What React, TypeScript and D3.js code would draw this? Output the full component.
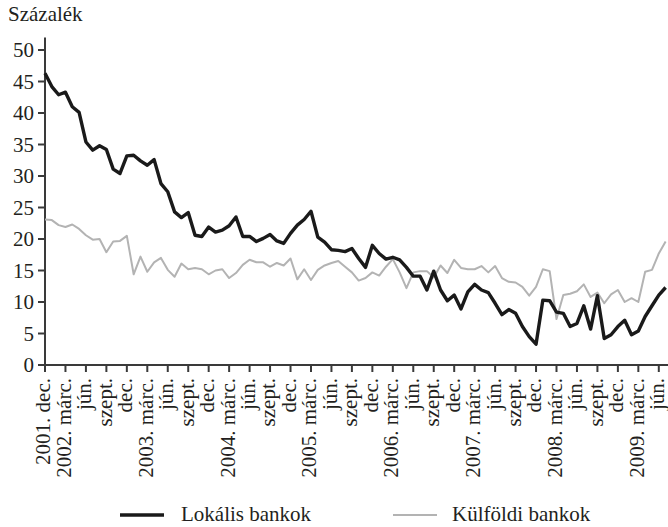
import React from "react";
import * as d3 from "d3";

const W = 668;
const H = 527;

// Months from 2001 dec. (index 0) to 2009 júl. (index 91)
const lokalis: number[] = [
  46.3, 44.2, 42.9, 43.3, 41.0, 40.1, 35.4, 34.1, 34.8, 34.2,
  31.1, 30.4, 33.2, 33.3, 32.4, 31.7, 32.6, 28.8, 27.5, 24.3,
  23.4, 24.2, 20.6, 20.4, 21.9, 21.1, 21.4, 22.1, 23.5, 20.4,
  20.4, 19.6, 20.1, 20.7, 19.7, 19.3, 20.9, 22.2, 23.1, 24.4,
  20.3, 19.5, 18.3, 18.2, 18.0, 18.5, 16.9, 15.5, 19.0, 17.7,
  16.8, 17.1, 16.7, 15.5, 14.1, 14.1, 11.9, 14.9, 11.9, 10.2,
  11.1, 8.9, 11.6, 12.8, 11.9, 11.5, 9.8, 8.0, 8.8, 8.2,
  6.1, 4.5, 3.3, 10.3, 10.2, 8.4, 8.2, 6.1, 6.6, 9.4,
  5.7, 11.0, 4.2, 4.8, 6.1, 7.1, 4.8, 5.4, 7.7, 9.4,
  11.1, 12.3,
];

const kulfoldi: number[] = [
  23.1, 23.0, 22.2, 21.9, 22.3, 21.6, 20.6, 19.9, 20.0, 17.9,
  19.6, 19.7, 20.5, 14.4, 17.2, 14.8, 16.3, 17.0, 15.1, 14.0,
  16.1, 15.2, 15.4, 15.2, 14.4, 15.0, 15.2, 13.8, 14.6, 15.9,
  16.7, 16.3, 16.3, 15.6, 16.2, 15.8, 16.9, 13.6, 15.2, 13.5,
  15.1, 15.8, 16.2, 16.5, 15.6, 14.7, 13.4, 13.8, 14.7, 14.2,
  15.6, 16.8, 14.7, 12.2, 14.7, 14.9, 14.9, 13.9, 15.8, 14.6,
  16.7, 15.4, 15.2, 15.2, 15.7, 14.7, 15.7, 13.8, 13.2, 13.1,
  12.4, 11.0, 12.4, 15.2, 14.9, 7.3, 11.1, 11.3, 11.7, 12.8,
  10.8, 11.5, 9.8, 11.2, 11.9, 10.0, 10.6, 10.0, 14.8, 15.1,
  17.7, 19.6,
];

const tickLabels: string[] = [
  "2001. dec.", "2002. márc.", "jún.", "szept.", "dec.",
  "2003. márc.", "jún.", "szept.", "dec.",
  "2004. márc.", "jún.", "szept.", "dec.",
  "2005. márc.", "jún.", "szept.", "dec.",
  "2006. márc.", "jún.", "szept.", "dec.",
  "2007. márc.", "jún.", "szept.", "dec.",
  "2008. márc.", "jún.", "szept.", "dec.",
  "2009. márc.", "jún.",
];

const yTicks: number[] = [0, 5, 10, 15, 20, 25, 30, 35, 40, 45, 50];

const seriesNames: string[] = ["Lokális bankok", "Külföldi bankok"];

const FONT = "Liberation Serif, DejaVu Serif, serif";
const TEXT = "#231f20";
const AXIS = "#3a3a3a";
const txt: React.CSSProperties = { fontFamily: FONT, fontSize: "21px" };

export default function App() {
  const x0 = 45;
  const pxPerMonth = 6.82;
  const x = d3.scaleLinear().domain([0, 91]).range([x0, x0 + 91 * pxPerMonth]);
  const y = d3.scaleLinear().domain([0, 50]).range([365, 50]);

  const line = d3
    .line<number>()
    .x((_, i) => x(i))
    .y((d) => y(d));

  return (
    <svg
      width={W}
      height={H}
      style={{ position: "absolute", left: 0, top: 0, background: "#fff" }}
    >
      <text x={8} y={21} style={txt} fill={TEXT}>
        Százalék
      </text>

      {/* y axis */}
      <line x1={x0} x2={x0} y1={y(0)} y2={y(52)} stroke={AXIS} strokeWidth={2} />
      {yTicks.map((t) => (
        <g key={t}>
          <line x1={x0 - 7} x2={x0} y1={y(t)} y2={y(t)} stroke={AXIS} strokeWidth={2} />
          <text x={34} y={y(t)} dy="0.35em" textAnchor="end" style={txt} fill={TEXT}>
            {t}
          </text>
        </g>
      ))}

      {/* x axis */}
      <line x1={x0} x2={W} y1={y(0)} y2={y(0)} stroke={AXIS} strokeWidth={2} />
      {tickLabels.map((lab, k) => {
        const xi = x(k * 3);
        return (
          <g key={k}>
            <line x1={xi} x2={xi} y1={y(0)} y2={y(0) + 7} stroke={AXIS} strokeWidth={2} />
            <text
              transform={`translate(${xi - 1.5},${y(0) + 13}) rotate(-90)`}
              dy="0.33em"
              textAnchor="end"
              style={txt}
              fill={TEXT}
            >
              {lab}
            </text>
          </g>
        );
      })}

      {/* series */}
      <path d={line(kulfoldi) ?? ""} fill="none" stroke="#b3b3b3" strokeWidth={2} strokeLinejoin="round" />
      <path d={line(lokalis) ?? ""} fill="none" stroke="#1a1a1a" strokeWidth={3.4} strokeLinejoin="round" />

      {/* legend */}
      <line x1={120} x2={164} y1={515} y2={515} stroke="#1a1a1a" strokeWidth={3.4} />
      <text x={181} y={521} style={txt} fill={TEXT}>
        {seriesNames[0]}
      </text>
      <line x1={393} x2={437} y1={515} y2={515} stroke="#b3b3b3" strokeWidth={2} />
      <text x={452} y={521} style={txt} fill={TEXT}>
        {seriesNames[1]}
      </text>
    </svg>
  );
}
